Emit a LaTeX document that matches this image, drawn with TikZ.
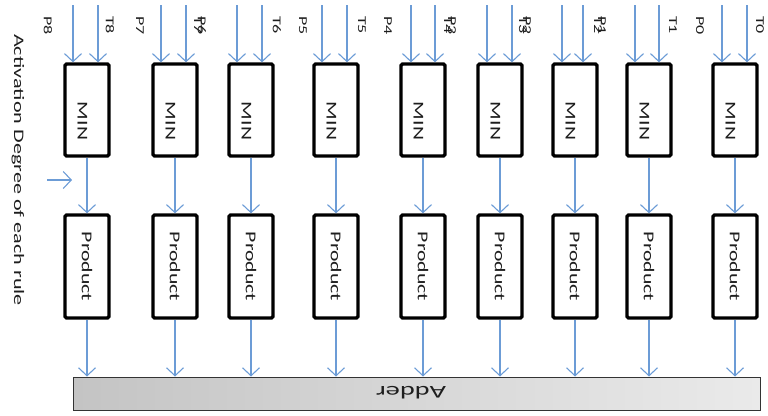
\documentclass[tikz,border=0pt]{standalone}
\usepackage{fontspec}
\setmainfont{Carlito}
\usepackage{graphicx}
\usetikzlibrary{arrows.meta}
\definecolor{arrowblue}{RGB}{108,156,214}
\definecolor{adderdark}{RGB}{196,196,196}
\definecolor{adderlight}{RGB}{234,234,234}
\definecolor{txtgray}{RGB}{30,30,30}
\newcommand{\vstretch}[2][1.6]{\rotatebox{-90}{\scalebox{#1}[1]{#2}}}
\begin{document}
\begin{tikzpicture}[x=1pt,y=-1pt,
  box/.style={draw=black, line width=3.3pt, fill=white, rounded corners=1.5pt, inner sep=0pt, minimum width=44pt},
  minbox/.style={box, minimum height=92pt},
  prodbox/.style={box, minimum height=103pt, text=txtgray, font=\fontsize{15}{15}\selectfont},
  mintext/.style={text=txtgray, font=\fontsize{15}{15}\selectfont, inner sep=0pt},
  flow/.style={draw=arrowblue, line width=1.1pt, -{Straight Barb[length=8pt,width=17pt]}},
  lbl/.style={inner sep=0pt, anchor=north, text=txtgray, font=\fontsize{12}{12}\selectfont},
  adder/.style={draw=black!80, line width=1pt, left color=adderdark, right color=adderlight, minimum width=687pt, minimum height=33pt, inner sep=0pt}
]
\useasboundingbox (0,0) rectangle (768,415);

\node[adder] (add) at (416.5,393.5) {};
\node[text=txtgray, font=\fontsize{18}{18}\selectfont, inner sep=0pt] (addtxt) at (411,393) {\rotatebox{180}{\resizebox{70pt}{12.5pt}{Adder}}};

\foreach \i/\c/\a/\b in {8/87/73/98, 7/175/161/186, 6/251/237/262, 5/336/322/347, 4/423/411/435, 3/500/487/512, 2/575/562/583, 1/649/635/659, 0/735/722/747}
{
  \node[minbox] (m\i) at (\c,110) {};
  \node[mintext] (mt\i) at (\c-4.5,121) {\vstretch[1.45]{MIN}};
  \node[prodbox] (p\i) at (\c,266.5) {\vstretch[1.45]{Product}};
  \coordinate (ia\i) at (\a,5);
  \coordinate (ib\i) at (\b,5);
  \draw[flow] (ia\i) -- (ia\i |- m\i.north);
  \draw[flow] (ib\i) -- (ib\i |- m\i.north);
  \draw[flow] (m\i.south) -- (p\i.north);
  \draw[flow] (p\i.south) -- (p\i.south |- add.north);
}

\foreach \x/\t [count=\k] in {48/P8, 110/T8, 140/P7, 202/P6, 198/T7, 277/T6, 303/P5, 362/T5, 388/P4, 452/P3, 448/T4, 527/P2, 523/T3, 602/P1, 598/T2, 673/T1, 700/P0, 760/T0}
{
  \node[lbl] (l\k) at (\x,16) {\vstretch[1.5]{\t}};
}

\node[inner sep=0pt, text=txtgray, font=\fontsize{14.5}{14.5}\selectfont] (act) at (18,170) {\vstretch[1.53]{Activation Degree of each rule}};
\coordinate (aa) at (47,180);
\coordinate (ab) at (72,180);
\draw[flow] (aa) -- (ab);
\end{tikzpicture}
\end{document}
